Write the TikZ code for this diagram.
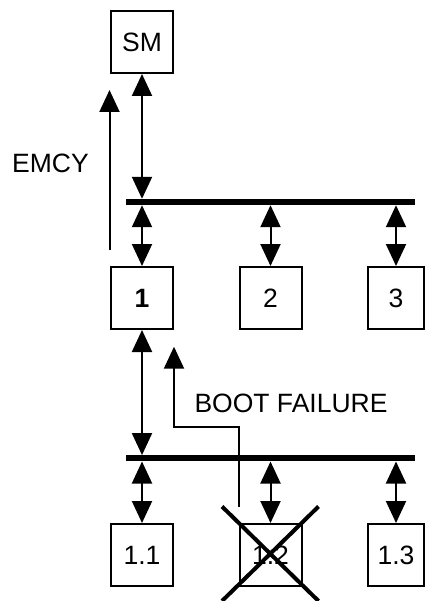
\documentclass[tikz,border=0pt]{standalone}
\usepackage{fontspec}
\setmainfont{Liberation Sans}
\usetikzlibrary{arrows.meta,calc}
\tikzset{
  nodebox/.style={draw,line width=2pt,minimum width=62pt,minimum height=62pt,
                  inner sep=0pt,font=\fontsize{26.5}{31}\selectfont},
  busbar/.style={fill=black,minimum width=289pt,minimum height=6pt,inner sep=0pt},
  canlink/.style={{Triangle[length=22pt,width=20pt]}-{Triangle[length=22pt,width=20pt]},line width=2pt},
  report/.style={-{Triangle[length=22pt,width=20pt]},line width=2pt},
  msglabel/.style={font=\fontsize{26.5}{31}\selectfont,inner sep=0pt},
  failcross/.style={line width=4pt}
}
\begin{document}
\begin{tikzpicture}[x=1pt,y=-1pt]
  \useasboundingbox (0,0) rectangle (425,601);

  % master and first level
  \node[nodebox] (sm) at (142,42) {SM};
  \node[busbar] (busA) at (270.5,202) {};
  \node[nodebox] (n1) at (142,298) {\bfseries 1};
  \node[nodebox] (n2) at (270.5,298) {2};
  \node[nodebox,minimum width=56pt] (n3) at (396,298) {3};

  \draw[canlink] (sm.south) -- (sm.south |- busA.north);
  \foreach \n in {n1,n2,n3}
    \draw[canlink] (\n.north |- busA.south) -- (\n.north);

  % emergency message
  \coordinate (emcyFoot) at (109.5,250);
  \coordinate (emcyTip) at (109.5,90);
  \draw[report] (emcyFoot) -- (emcyTip);
  \node[msglabel] (emcy) at (50.5,163) {EMCY};

  % second level
  \node[busbar] (busB) at (270.5,458.3) {};
  \node[nodebox] (n11) at (142,555) {1.1};
  \node[nodebox] (n12) at (270.5,555) {1.2};
  \node[nodebox,minimum width=56pt] (n13) at (396,555) {1.3};

  \draw[canlink] (n1.south) -- (n1.south |- busB.north);
  \foreach \n in {n11,n12,n13}
    \draw[canlink] (\n.north |- busB.south) -- (\n.north);

  % boot failure report
  \coordinate (bfFoot) at (238.5,506.5);
  \coordinate (bfKnee) at (174,426.7);
  \coordinate (bfTip) at (174,346.7);
  \draw[report] (bfFoot) |- (bfKnee) -- (bfTip);
  \node[msglabel] (bootlbl) at (291,403) {BOOT FAILURE};

  % failed node
  \draw[failcross] ($(n12)+(-48.5,-48.5)$) -- ($(n12)+(48,46)$)
                   ($(n12)+(48,-48.5)$) -- ($(n12)+(-48.5,46)$);
\end{tikzpicture}
\end{document}
